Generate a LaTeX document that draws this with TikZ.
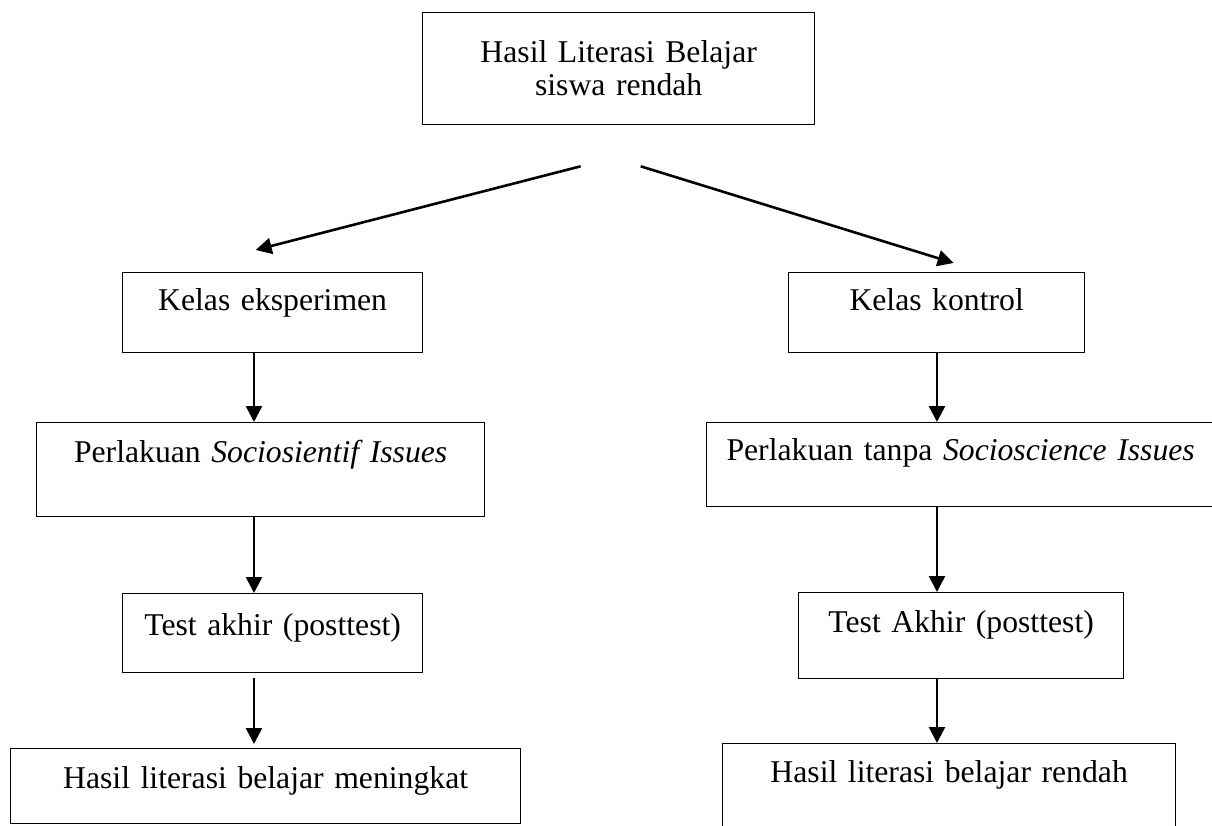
\documentclass[tikz,border=0pt]{standalone}
\usepackage{fontspec}
\setmainfont{Liberation Serif}
\usetikzlibrary{arrows.meta}

\begin{document}
\begin{tikzpicture}
      [ x=1pt, y=-1pt,
        font=\fontsize{31.7}{33}\selectfont,
        box/.style={draw, line width=1.3pt, anchor=north west, inner sep=0pt, align=center},
        arr/.style={-{Triangle[length=16pt,width=16pt]}, line width=2.6pt}
      ]
      \useasboundingbox (0,0) rectangle (1212,826);
      \clip (0,0) rectangle (1212,826);

      \node[box, text width=392pt, text height=50pt, text depth=62pt] (awal)     at (422,12)  {Hasil Literasi Belajar\\siswa rendah};
      \node[box, text width=300pt, text height=38pt, text depth=42pt] (kelasEks) at (122,272) {Kelas eksperimen};
      \node[box, text width=296pt, text height=38pt, text depth=42pt] (kelasKon) at (788,272) {Kelas kontrol};
      \node[box, text width=448pt, text height=40pt, text depth=54pt] (perlEks)  at (36,422)  {Perlakuan \textit{Sociosientif Issues}};
      \node[box, text width=508pt, text height=38pt, text depth=46pt] (perlKon)  at (706,422) {Perlakuan tanpa \textit{Socioscience Issues}};
      \node[box, text width=300pt, text height=42pt, text depth=37pt] (testEks)  at (122,593) {Test akhir (posttest)};
      \node[box, text width=325pt, text height=40pt, text depth=46pt] (testKon)  at (798,592) {Test Akhir (posttest)};
      \node[box, text width=510pt, text height=40pt, text depth=35pt] (hasilEks) at (10,748)  {Hasil literasi belajar meningkat};
      \node[box, text width=453pt, text height=39pt, text depth=50pt] (hasilKon) at (722,743) {Hasil literasi belajar rendah};

      \coordinate (colEks) at (254,0);
      \coordinate (colKon) at (937,0);

      \path[arr] ([xshift=-38pt,yshift=-41pt]awal.south) edge ([xshift=-17pt,yshift=22pt]kelasEks.north)
                 ([xshift=22pt,yshift=-41pt]awal.south)  edge ([xshift=17pt,yshift=9pt]kelasKon.north);

      \path[arr] (kelasEks.south -| colEks) edge (perlEks.north -| colEks)
                 (perlEks.south -| colEks)  edge (testEks.north -| colEks)
                 (testEks.south -| colEks)  edge [shorten <=5pt, shorten >=4pt] (hasilEks.north -| colEks);

      \path[arr] (kelasKon.south -| colKon) edge (perlKon.north -| colKon)
                 (perlKon.south -| colKon)  edge (testKon.north -| colKon)
                 (testKon.south -| colKon)  edge (hasilKon.north -| colKon);
\end{tikzpicture}
\end{document}
